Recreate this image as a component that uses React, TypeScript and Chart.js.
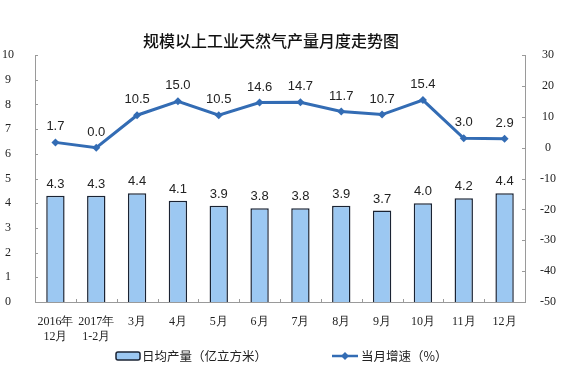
import React, { useEffect, useRef } from "react";
import { Chart, registerables } from "chart.js";

Chart.register(...registerables);

const categories: (string | string[])[] = [
  ["2016年", "12月"],
  ["2017年", "1-2月"],
  "3月",
  "4月",
  "5月",
  "6月",
  "7月",
  "8月",
  "9月",
  "10月",
  "11月",
  "12月",
];
const dailyOutput = [4.3, 4.3, 4.4, 4.1, 3.9, 3.8, 3.8, 3.9, 3.7, 4.0, 4.2, 4.4];
const monthlyGrowth = [1.7, 0.0, 10.5, 15.0, 10.5, 14.6, 14.7, 11.7, 10.7, 15.4, 3.0, 2.9];
const titleText = "规模以上工业天然气产量月度走势图";
const barLegend = "日均产量（亿立方米）";
const lineLegend = "当月增速（%）";

const BAR_FILL = "#9CC8F2";
const BAR_BORDER = "#1A2333";
const LINE_COLOR = "#336CB4";
const AXIS_COLOR = "#9a9a9a";
const SERIF = "'Times New Roman', 'Liberation Serif', serif";
const SANS = "Arial, 'Liberation Sans', sans-serif";
const CJK = "'Noto Sans CJK SC', sans-serif";

const overlayPlugin = {
  id: "overlay",
  afterDatasetsDraw(chart: any) {
    const ctx = chart.ctx as CanvasRenderingContext2D;
    const area = chart.chartArea;
    ctx.save();
    // inner tick marks
    ctx.strokeStyle = AXIS_COLOR;
    ctx.lineWidth = 1;
    const ys = chart.scales.y;
    ys.ticks.forEach((t: any) => {
      const py = Math.round(ys.getPixelForValue(t.value)) + 0.5;
      ctx.beginPath();
      ctx.moveTo(area.left, py);
      ctx.lineTo(area.left + 3, py);
      ctx.stroke();
    });
    const y1 = chart.scales.y1;
    y1.ticks.forEach((t: any) => {
      const py = Math.round(y1.getPixelForValue(t.value)) + 0.5;
      ctx.beginPath();
      ctx.moveTo(area.right, py);
      ctx.lineTo(area.right - 3, py);
      ctx.stroke();
    });
    const xs = chart.scales.x;
    const n = categories.length;
    for (let i = 1; i < n; i++) {
      const px = Math.round((xs.getPixelForTick(i - 1) + xs.getPixelForTick(i)) / 2) + 0.5;
      ctx.beginPath();
      ctx.moveTo(px, area.bottom);
      ctx.lineTo(px, area.bottom - 3);
      ctx.stroke();
    }
    ctx.restore();
  },
  afterDraw(chart: any) {
    const ctx = chart.ctx as CanvasRenderingContext2D;
    ctx.save();
    // title
    ctx.fillStyle = "#111";
    ctx.font = `500 16px ${CJK}`;
    ctx.textAlign = "center";
    ctx.textBaseline = "middle";
    ctx.fillText(titleText, 271, 41);

    // data labels
    ctx.font = `13px ${SANS}`;
    ctx.fillStyle = "#222";
    ctx.textAlign = "center";
    ctx.textBaseline = "alphabetic";
    const barMeta = chart.getDatasetMeta(0);
    barMeta.data.forEach((el: any, i: number) => {
      ctx.fillText(dailyOutput[i].toFixed(1), el.x, el.y - 8);
    });
    const lineMeta = chart.getDatasetMeta(1);
    lineMeta.data.forEach((el: any, i: number) => {
      ctx.fillText(monthlyGrowth[i].toFixed(1), el.x, el.y - 12);
    });

    // legend
    const ly = 356;
    ctx.fillStyle = BAR_FILL;
    ctx.strokeStyle = BAR_BORDER;
    ctx.lineWidth = 1.5;
    ctx.beginPath();
    (ctx as any).roundRect ? (ctx as any).roundRect(116, ly - 4, 24, 8, 2) : ctx.rect(116, ly - 4, 24, 8);
    ctx.fill();
    ctx.stroke();
    ctx.fillStyle = "#222";
    ctx.font = `12.5px ${CJK}`;
    ctx.textAlign = "left";
    ctx.textBaseline = "middle";
    ctx.fillText(barLegend, 142, ly);

    ctx.strokeStyle = LINE_COLOR;
    ctx.lineWidth = 2.5;
    ctx.beginPath();
    ctx.moveTo(332, ly);
    ctx.lineTo(358, ly);
    ctx.stroke();
    ctx.fillStyle = LINE_COLOR;
    ctx.beginPath();
    ctx.moveTo(345, ly - 4);
    ctx.lineTo(349, ly);
    ctx.lineTo(345, ly + 4);
    ctx.lineTo(341, ly);
    ctx.closePath();
    ctx.fill();
    ctx.fillStyle = "#222";
    ctx.fillText(lineLegend, 361, ly);
    ctx.restore();
  },
};

export default function App() {
  const ref = useRef<HTMLCanvasElement | null>(null);
  useEffect(() => {
    document.body.style.margin = "0";
    const chart = new Chart(ref.current!, {
      type: "bar",
      data: {
        labels: categories as any,
        datasets: [
          {
            type: "bar",
            label: barLegend,
            data: dailyOutput,
            backgroundColor: BAR_FILL,
            borderColor: BAR_BORDER,
            borderWidth: 1.5,
            barPercentage: 0.9,
            categoryPercentage: 0.5,
            yAxisID: "y",
            order: 2,
          },
          {
            type: "line",
            label: lineLegend,
            data: monthlyGrowth,
            borderColor: LINE_COLOR,
            backgroundColor: LINE_COLOR,
            borderWidth: 3,
            pointStyle: "rectRot",
            pointRadius: 4,
            pointBorderWidth: 0,
            yAxisID: "y1",
            order: 1,
          } as any,
        ],
      },
      options: {
        animation: false,
        responsive: false,
        maintainAspectRatio: false,
        layout: { padding: { top: 55, bottom: 32, left: 0, right: 0 } },
        plugins: {
          legend: { display: false },
          title: { display: false },
          tooltip: { enabled: false },
        },
        scales: {
          x: {
            offset: true,
            grid: { display: false },
            border: { display: true, color: AXIS_COLOR },
            ticks: { font: { family: SERIF, size: 12 }, color: "#222", padding: 5, maxRotation: 0, autoSkip: false },
            afterFit: (s: any) => {
              s.height = 48;
            },
          },
          y: {
            position: "left",
            min: 0,
            max: 10,
            ticks: { stepSize: 1, font: { family: SERIF, size: 12 }, color: "#222", padding: 13, crossAlign: "center" },
            grid: { display: false },
            border: { display: true, color: AXIS_COLOR },
            afterFit: (s: any) => {
              s.width = 35;
            },
          },
          y1: {
            position: "right",
            min: -50,
            max: 30,
            ticks: { stepSize: 10, font: { family: SERIF, size: 12 }, color: "#222", padding: 7, crossAlign: "center" },
            grid: { display: false },
            border: { display: true, color: AXIS_COLOR },
            afterFit: (s: any) => {
              s.width = 42;
            },
          },
        },
      },
      plugins: [overlayPlugin],
    });
    return () => chart.destroy();
  }, []);
  return (
    <div style={{ position: "absolute", left: 0, top: 0, width: 567, height: 382, background: "#fff" }}>
      <canvas ref={ref} width={567} height={382} style={{ width: 567, height: 382 }} />
    </div>
  );
}
